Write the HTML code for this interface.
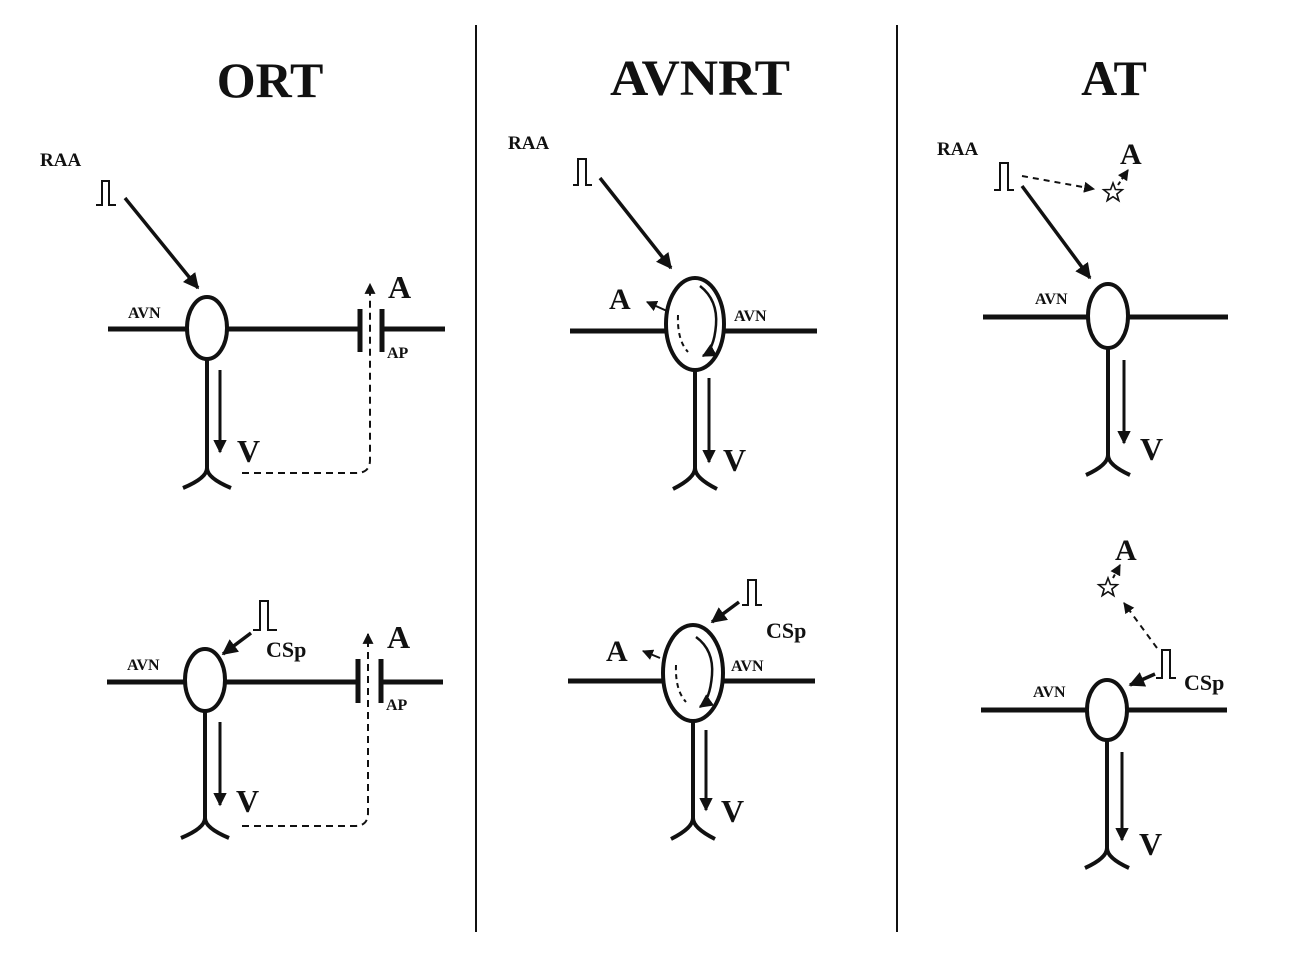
<!DOCTYPE html>
<html><head><meta charset="utf-8"><style>
html,body{margin:0;padding:0;background:#fff}
svg{display:block}
text{font-family:"Liberation Serif",serif;font-weight:bold;fill:#111}
</style></head><body>
<svg width="1294" height="960" viewBox="0 0 1294 960" xmlns="http://www.w3.org/2000/svg">
<defs>
<marker id="ah" viewBox="0 0 10 10" refX="9" refY="5" markerWidth="4.5" markerHeight="4.5" orient="auto"><path d="M0,0 L10,5 L0,10 z" fill="#111"/></marker>
<marker id="ahs" viewBox="0 0 10 10" refX="9" refY="5" markerWidth="5.5" markerHeight="5.5" orient="auto"><path d="M0,0 L10,5 L0,10 z" fill="#111"/></marker>
</defs>
<g stroke="#111" fill="none">
<line x1="476" y1="25" x2="476" y2="932" stroke-width="2"/>
<line x1="897" y1="25" x2="897" y2="932" stroke-width="2"/>
</g>
<text x="270" y="97" font-size="50" text-anchor="middle">ORT</text>
<text x="700" y="95" font-size="51" text-anchor="middle" textLength="180" lengthAdjust="spacingAndGlyphs">AVNRT</text>
<text x="1114" y="95" font-size="50" text-anchor="middle">AT</text>

<g stroke="#111" fill="none" stroke-linecap="butt">
<!-- ORT top -->
<line x1="108" y1="329" x2="358" y2="329" stroke-width="5"/>
<line x1="382" y1="329" x2="445" y2="329" stroke-width="5"/>
<ellipse cx="207" cy="328" rx="20" ry="31" stroke-width="4" fill="#fff"/>
<path d="M207,359 V468 Q207,478 183,488 M207,468 Q207,478 231,488" stroke-width="4"/>
<line x1="220" y1="370" x2="220" y2="452" stroke-width="3" marker-end="url(#ah)"/>
<line x1="360" y1="309" x2="360" y2="352" stroke-width="5"/>
<line x1="382" y1="309" x2="382" y2="352" stroke-width="5"/>
<path d="M242,473 H356 Q370,473 370,460 V284" stroke-width="2" stroke-dasharray="7,5" marker-end="url(#ahs)"/>
<path d="M96,205 H102 V181 H109 V205 H116" stroke-width="2"/>
<line x1="125" y1="198" x2="198" y2="288" stroke-width="3.5" marker-end="url(#ah)"/>

<!-- ORT bottom -->
<line x1="107" y1="682" x2="358" y2="682" stroke-width="5"/>
<line x1="382" y1="682" x2="443" y2="682" stroke-width="5"/>
<ellipse cx="205" cy="680" rx="20" ry="31" stroke-width="4" fill="#fff"/>
<path d="M205,711 V818 Q205,828 181,838 M205,818 Q205,828 229,838" stroke-width="4"/>
<line x1="220" y1="722" x2="220" y2="805" stroke-width="3" marker-end="url(#ah)"/>
<line x1="358" y1="659" x2="358" y2="703" stroke-width="5"/>
<line x1="381" y1="659" x2="381" y2="703" stroke-width="5"/>
<path d="M242,826 H355 Q368,826 368,813 V634" stroke-width="2" stroke-dasharray="7,5" marker-end="url(#ahs)"/>
<path d="M253,630 H260 V601 H268 V630 H277" stroke-width="2"/>
<line x1="251" y1="633" x2="223" y2="654" stroke-width="3.5" marker-end="url(#ah)"/>

<!-- AVNRT top -->
<line x1="570" y1="331" x2="666" y2="331" stroke-width="5"/>
<line x1="724" y1="331" x2="817" y2="331" stroke-width="5"/>
<ellipse cx="695" cy="324" rx="29" ry="46" stroke-width="4" fill="#fff"/>
<path d="M695,370 V468 Q695,478 673,489 M695,468 Q695,478 717,489" stroke-width="4"/>
<line x1="709" y1="378" x2="709" y2="462" stroke-width="3" marker-end="url(#ah)"/>
<path d="M700,286 Q718,300 716,325 Q714,350 703,356" stroke-width="2.5" marker-end="url(#ahs)"/>
<path d="M678,315 Q677,340 688,352" stroke-width="2" stroke-dasharray="5,4"/>
<line x1="667" y1="311" x2="647" y2="302" stroke-width="2" marker-end="url(#ahs)"/>
<path d="M573,185 H578 V159 H586 V185 H592" stroke-width="2"/>
<line x1="600" y1="178" x2="671" y2="268" stroke-width="3.5" marker-end="url(#ah)"/>

<!-- AVNRT bottom -->
<line x1="568" y1="681" x2="663" y2="681" stroke-width="5"/>
<line x1="724" y1="681" x2="815" y2="681" stroke-width="5"/>
<ellipse cx="693" cy="673" rx="30" ry="48" stroke-width="4" fill="#fff"/>
<path d="M693,721 V818 Q693,828 671,839 M693,818 Q693,828 715,839" stroke-width="4"/>
<line x1="706" y1="730" x2="706" y2="810" stroke-width="3" marker-end="url(#ah)"/>
<path d="M696,637 Q714,650 712,675 Q710,700 700,707" stroke-width="2.5" marker-end="url(#ahs)"/>
<path d="M676,665 Q675,690 686,702" stroke-width="2" stroke-dasharray="5,4"/>
<line x1="660" y1="658" x2="643" y2="651" stroke-width="2" marker-end="url(#ahs)"/>
<path d="M742,605 H748 V580 H756 V605 H762" stroke-width="2"/>
<line x1="739" y1="602" x2="712" y2="622" stroke-width="3.5" marker-end="url(#ah)"/>

<!-- AT top -->
<line x1="983" y1="317" x2="1228" y2="317" stroke-width="5"/>
<ellipse cx="1108" cy="316" rx="20" ry="32" stroke-width="4" fill="#fff"/>
<path d="M1108,348 V455 Q1108,465 1086,475 M1108,455 Q1108,465 1130,475" stroke-width="4"/>
<line x1="1124" y1="360" x2="1124" y2="443" stroke-width="3" marker-end="url(#ah)"/>
<path d="M994,190 H1000 V163 H1008 V190 H1014" stroke-width="2"/>
<line x1="1022" y1="186" x2="1090" y2="278" stroke-width="3.5" marker-end="url(#ah)"/>
<line x1="1022" y1="176" x2="1094" y2="189" stroke-width="2" stroke-dasharray="6,5" marker-end="url(#ahs)"/>
<line x1="1118" y1="185" x2="1128" y2="170" stroke-width="2" stroke-dasharray="4,3" marker-end="url(#ahs)"/>

<!-- AT bottom -->
<line x1="981" y1="710" x2="1227" y2="710" stroke-width="5"/>
<ellipse cx="1107" cy="710" rx="20" ry="30" stroke-width="4" fill="#fff"/>
<path d="M1107,740 V848 Q1107,858 1085,868 M1107,848 Q1107,858 1129,868" stroke-width="4"/>
<line x1="1122" y1="752" x2="1122" y2="840" stroke-width="3" marker-end="url(#ah)"/>
<path d="M1156,678 H1162 V650 H1170 V678 H1176" stroke-width="2"/>
<line x1="1155" y1="674" x2="1130" y2="685" stroke-width="3.5" marker-end="url(#ah)"/>
<line x1="1157" y1="648" x2="1124" y2="603" stroke-width="2" stroke-dasharray="6,5" marker-end="url(#ahs)"/>
<line x1="1113" y1="578" x2="1120" y2="565" stroke-width="2" stroke-dasharray="4,3" marker-end="url(#ahs)"/>
</g>
<g fill="#fff" stroke="#111" stroke-width="1.6">
<path d="M1113,183 l2.4,6.5 6.9,0.2 -5.4,4.3 1.9,6.6 -5.8,-3.9 -5.8,3.9 1.9,-6.6 -5.4,-4.3 6.9,-0.2z"/>
<path d="M1108,578 l2.4,6.5 6.9,0.2 -5.4,4.3 1.9,6.6 -5.8,-3.9 -5.8,3.9 1.9,-6.6 -5.4,-4.3 6.9,-0.2z"/>
</g>

<!-- labels -->
<text x="40" y="166" font-size="19">RAA</text>
<text x="128" y="318" font-size="16">AVN</text>
<text x="388" y="298" font-size="32">A</text>
<text x="387" y="358" font-size="16">AP</text>
<text x="237" y="462" font-size="32">V</text>
<text x="127" y="670" font-size="16">AVN</text>
<text x="266" y="657" font-size="22">CSp</text>
<text x="387" y="648" font-size="32">A</text>
<text x="386" y="710" font-size="16">AP</text>
<text x="236" y="812" font-size="32">V</text>

<text x="508" y="149" font-size="19">RAA</text>
<text x="609" y="309" font-size="30">A</text>
<text x="734" y="321" font-size="16">AVN</text>
<text x="723" y="471" font-size="32">V</text>
<text x="606" y="661" font-size="30">A</text>
<text x="731" y="671" font-size="16">AVN</text>
<text x="766" y="638" font-size="22">CSp</text>
<text x="721" y="822" font-size="32">V</text>

<text x="937" y="155" font-size="19">RAA</text>
<text x="1120" y="164" font-size="30">A</text>
<text x="1035" y="304" font-size="16">AVN</text>
<text x="1140" y="460" font-size="32">V</text>
<text x="1115" y="560" font-size="30">A</text>
<text x="1033" y="697" font-size="16">AVN</text>
<text x="1184" y="690" font-size="22">CSp</text>
<text x="1139" y="855" font-size="32">V</text>
</svg>
</body></html>
